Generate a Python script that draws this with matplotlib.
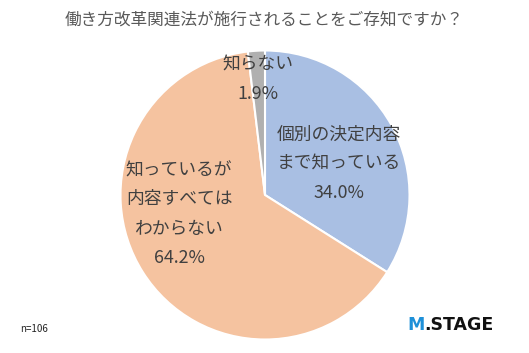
import matplotlib
matplotlib.use("Agg")
import matplotlib.pyplot as plt
import numpy as np

plt.rcParams['font.family'] = ['Noto Sans CJK JP', 'DejaVu Sans']

categories = ["個別の決定内容\nまで知っている", "知っているが\n内容すべては\nわからない", "知らない"]
values = [34.0, 64.2, 1.9]
colors = ["#A9BFE3", "#F5C3A0", "#B0B0B0"]
title = "働き方改革関連法が施行されることをご存知ですか？"
note = "n=106"

W, H = 529, 353
fig = plt.figure(figsize=(W / 100, H / 100), dpi=100)
cx, cy, r = 265, 195, 144.5
ax = fig.add_axes([(cx - r) / W, (H - cy - r) / H, 2 * r / W, 2 * r / H])
ax.pie(values, colors=colors, startangle=90, counterclock=False,
       wedgeprops=dict(edgecolor="white", linewidth=1.5), radius=1.0)
ax.set_xlim(-1, 1)
ax.set_ylim(-1, 1)
ax.set_aspect("equal")
ax.axis("off")

label_pos = [(0.51, 0.215), (-0.595, -0.131), (-0.05, 0.80)]
for cat, v, (lx, ly) in zip(categories, values, label_pos):
    ax.text(lx, ly, f"{cat}\n{v:.1f}%", ha="center", va="center",
            fontsize=12.8, color="#404040", linespacing=1.8)

fig.text(0.5, 1 - 20 / H, title, ha="center", va="center", fontsize=12, color="#595959")
fig.text(20 / W, 1 - 329 / H, note, ha="left", va="center", fontsize=7, color="#222222")
m = fig.text(407 / W, 1 - 325 / H, "M", ha="left", va="center", fontsize=12.5,
             color="#1E90D8", fontweight="bold", family="DejaVu Sans")
fig.text(424 / W, 1 - 325 / H, ".STAGE", ha="left", va="center", fontsize=12.5,
         color="#111111", fontweight="bold", family="DejaVu Sans")
fig.savefig("out.png", dpi=100)
